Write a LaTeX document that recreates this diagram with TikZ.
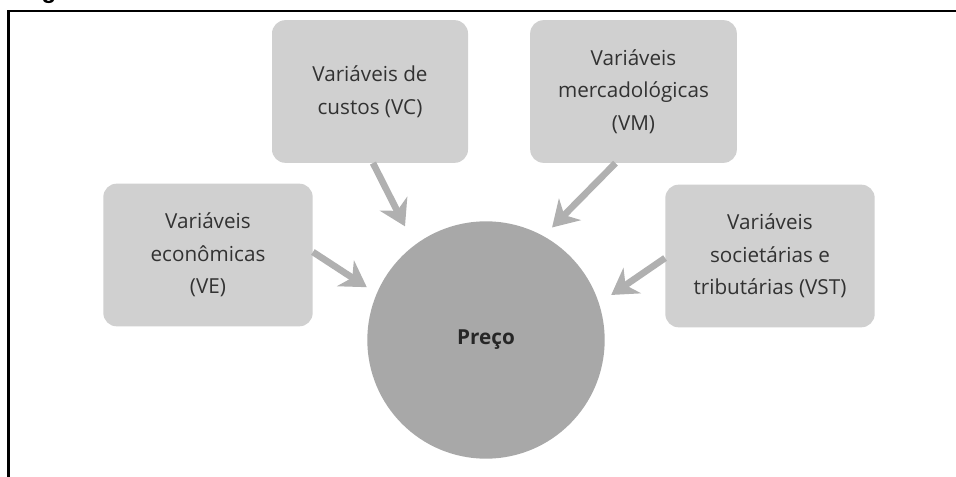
\documentclass[tikz,border=0pt]{standalone}
\usepackage{fontspec}
\setmainfont{Open Sans}
\newfontfamily\headfont{Liberation Sans}
\usetikzlibrary{arrows.meta,calc}
\definecolor{BoxClr}{RGB}{208,208,208}
\definecolor{CircClr}{RGB}{168,168,168}
\definecolor{ArrClr}{RGB}{176,176,176}
\definecolor{TxtClr}{RGB}{50,50,50}

\begin{document}
\begin{tikzpicture}[x=0.75pt,y=-0.75pt,
  varbox/.style={fill=BoxClr,rounded corners=10pt,align=center,text=TxtClr,
    font=\fontsize{15.5}{24.5}\selectfont,minimum width=157pt,minimum height=107pt,inner sep=0pt},
  arr/.style={draw=ArrClr,line width=5pt,-{Stealth[length=19pt,width=23pt,inset=6pt]}}]
\useasboundingbox (0,0) rectangle (956,477);

\node[anchor=base,font=\headfont\bfseries\fontsize{18}{18}\selectfont] (fig) at (49,-1) {g};
\draw[line width=1.6pt] (8.5,477) -- (8.5,11) -- (956,11);

\node[varbox] (ve) at (208,255) {Variáveis\\econômicas\\(VE)};
\node[varbox,minimum width=147pt] (vc) at (370,91.5) {Variáveis de\\custos (VC)};
\node[varbox,minimum width=155pt] (vm) at (633.5,91.5) {Variáveis\\mercadológicas\\(VM)};
\node[varbox] (vst) at (770,256) {Variáveis\\societárias e\\tributárias (VST)};

\node[circle,fill=CircClr,minimum size=178pt,inner sep=0pt,text=black!85,
  font=\bfseries\fontsize{15.5}{16}\selectfont] (preco) at (486,340) {Preço};

\draw[arr,shorten >=8.7pt] ($(ve.east)+(0,-3)$) -- (preco.157);
\draw[arr,shorten >=15.7pt] ($(vc.south)+(3,0)$) -- (preco.127);
\draw[arr,shorten >=9pt] ($(vm.south)+(-18,0)$) -- (preco.61);
\draw[arr,shorten >=11pt] ($(vst.west)+(0,2)$) -- (preco.18);

\end{tikzpicture}
\end{document}
